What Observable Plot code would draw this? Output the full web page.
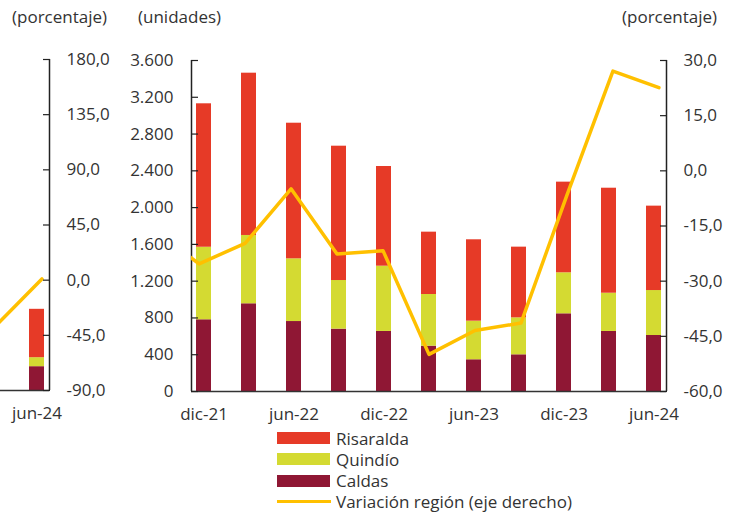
<!DOCTYPE html>
<html>
<head>
<meta charset="utf-8">
<script src="https://cdn.jsdelivr.net/npm/d3@7"></script>
<script src="https://cdn.jsdelivr.net/npm/@observablehq/plot@0.6"></script>
<style>
  body { margin: 0; background: #fff; }
  #wrap { position: relative; width: 736px; height: 512px; overflow: hidden; background: #fff;
          font-family: "Open Sans", sans-serif; color: #333; }
  .layer { position: absolute; }
  .unit { position: absolute; font-size: 17px; line-height: 22px; white-space: nowrap; color: #333; }
  #legend { position: absolute; left: 277px; top: 427px; font-size: 17px; color: #333; }
  .item { position: absolute; left: 0; height: 22px; display: flex; align-items: center; white-space: nowrap; }
  .sw { width: 53px; height: 12px; margin-right: 6px; }
  .ln { width: 54px; height: 3px; margin-right: 5px; }
</style>
</head>
<body>
<div id="wrap"></div>
<script>
// ---------- data (main panel) ----------
const quarters = ["dic-21","mar-22","jun-22","sep-22","dic-22","mar-23","jun-23","sep-23","dic-23","mar-24","jun-24"];
const xLabels = ["dic-21","jun-22","dic-22","jun-23","dic-23","jun-24"];
const caldas    = [780, 954, 761, 678, 653, 493, 345, 399, 845, 653, 609];
const quindio   = [789, 743, 682, 529, 710, 562, 420, 402, 446, 416, 489];
const risaralda = [1560, 1765, 1475, 1461, 1084, 678, 885, 769, 986, 1142, 918];
const lineQuarters = ["sep-21","dic-21","mar-22","jun-22","sep-22","dic-22","mar-23","jun-23","sep-23","dic-23","mar-24","jun-24"];
const variacion = [-15.7, -25.3, -19.7, -4.9, -22.6, -21.7, -49.9, -43.4, -41.4, -6.6, 27.1, 22.6];
const leftTicks = [0, 400, 800, 1200, 1600, 2000, 2400, 2800, 3200, 3600];
const rightTicks = [-60, -45, -30, -15, 0, 15, 30];

// ---------- data (partially visible panel on the left) ----------
const prevQuarters = ["mar-24","jun-24"];
const prevLabels = ["jun-24"];
const prevCaldas    = [139, 259];
const prevQuindio   = [73, 98];
const prevRisaralda = [453, 526];
const prevVariacion = [-37.1, 1.0];
const prevTicks = [-90, -45, 0, 45, 90, 135, 180];

const series = ["Risaralda", "Quindío", "Caldas"];
const colors = ["#E63A27", "#D4DA32", "#8F1734"];
const lineColor = "#FFC000";

// ---------- layout ----------
const W = 736, H = 420, mL = 191, mR = 70, mT = 60, mB = 29;
const PAD = 0.67;
const FONT = '"Open Sans", sans-serif';
const es = d3.formatLocale({decimal: ",", thousands: ".", grouping: [3], currency: ["$", ""], minus: "-"});
const fmtInt = es.format(",d");
const fmt1 = es.format(".1f");
const baseStyle = {fontFamily: FONT, fontSize: "17px", color: "#333", background: "transparent", overflow: "visible"};

function barsPlot(q, c, qu, r, yDomain, leftAxis, labels) {
  const data = [];
  q.forEach((k, i) => {
    data.push({q: k, s: "Caldas", v: c[i]}, {q: k, s: "Quindío", v: qu[i]}, {q: k, s: "Risaralda", v: r[i]});
  });
  return Plot.plot({
    width: W, height: H, marginLeft: mL, marginRight: mR, marginTop: mT, marginBottom: mB,
    style: baseStyle,
    x: {type: "band", domain: quarters, paddingInner: PAD, paddingOuter: 0},
    y: leftAxis ? {domain: yDomain} : {domain: yDomain, axis: null},
    color: {domain: series, range: colors},
    marks: [
      Plot.barY(data, {x: "q", y: "v", fill: "s", order: ["Caldas", "Quindío", "Risaralda"]}),
      Plot.ruleY([0], {stroke: "#333", strokeWidth: 1.5}),
      leftAxis ? Plot.axisY({ticks: leftTicks, tickFormat: fmtInt, tickSize: -7, tickPadding: 25, label: null, stroke: "#222", strokeWidth: 1.2}) : null,
      Plot.axisX({ticks: labels, tickSize: 0, tickPadding: 16, label: null})
    ]
  });
}

function linePlot(lq, vals, yDomain, ticks, rules) {
  const n = quarters.length, half = (1 - PAD) / 2;
  const last = quarters.indexOf(lq[lq.length - 1]);
  const pts = lq.map((k, i) => ({i: last - (lq.length - 1 - i), v: vals[i]}));
  const ends = [-half, n - 1 + half];
  return Plot.plot({
    width: W, height: H, marginLeft: mL, marginRight: mR, marginTop: mT, marginBottom: mB,
    style: baseStyle,
    x: {type: "linear", domain: ends, axis: null},
    y: {domain: yDomain},
    marks: [
      Plot.ruleX(rules === "both" ? ends : [ends[1]], {stroke: "#222", strokeWidth: 1.5}),
      Plot.line(pts, {x: "i", y: "v", stroke: lineColor, strokeWidth: 3.5, clip: true}),
      Plot.axisY({anchor: "right", ticks, tickFormat: fmt1, tickSize: -7, tickPadding: 24, label: null, stroke: "#222", strokeWidth: 1.2})
    ]
  });
}

const wrap = document.getElementById("wrap");
function place(node, left, top) {
  node.classList.add("layer");
  node.style.left = left + "px";
  node.style.top = top + "px";
  wrap.appendChild(node);
}
function label(text, left, top) {
  const d = document.createElement("div");
  d.className = "unit";
  d.textContent = text;
  d.style.left = left + "px";
  d.style.top = top + "px";
  wrap.appendChild(d);
}

// partially visible panel (cut by the left edge)
const shiftX = -(W - mR - 49);
place(barsPlot(prevQuarters, prevCaldas, prevQuindio, prevRisaralda, [0, 3600], false, prevLabels), shiftX, -1.5);
place(linePlot(prevQuarters, prevVariacion, [-90, 180], prevTicks, "right"), shiftX, -1.5);
label("(porcentaje)", 12, 6);

// main panel
place(barsPlot(quarters, caldas, quindio, risaralda, [0, 3600], true, xLabels), 0, 0);
place(linePlot(lineQuarters, variacion, [-60, 30], rightTicks, "both"), 0, 0);
label("(unidades)", 138, 6);
label("(porcentaje)", 622, 6);

// legend
const legend = document.createElement("div");
legend.id = "legend";
const rows = [
  {name: "Risaralda", color: colors[0], kind: "sw"},
  {name: "Quindío", color: colors[1], kind: "sw"},
  {name: "Caldas", color: colors[2], kind: "sw"},
  {name: "Variación región (eje derecho)", color: lineColor, kind: "ln"}
];
rows.forEach((r, i) => {
  const it = document.createElement("div");
  it.className = "item";
  it.style.top = (i * 21.3) + "px";
  const s = document.createElement("span");
  s.className = r.kind;
  s.style.background = r.color;
  const t = document.createElement("span");
  t.textContent = r.name;
  it.appendChild(s); it.appendChild(t);
  legend.appendChild(it);
});
wrap.appendChild(legend);
</script>
</body>
</html>
